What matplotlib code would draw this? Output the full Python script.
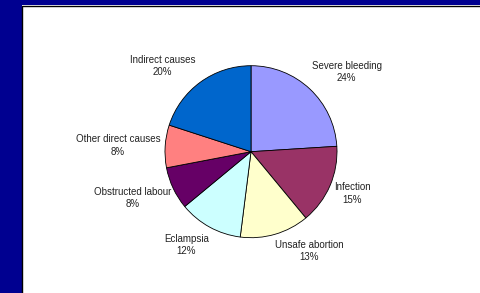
import numpy as np
import matplotlib.pyplot as plt
from matplotlib.patches import Rectangle

causes = ['Severe bleeding', 'Infection', 'Unsafe abortion', 'Eclampsia',
          'Obstructed labour', 'Other direct causes', 'Indirect causes']
shares = [24, 15, 13, 12, 8, 8, 20]
colors = ['#9999FF', '#993366', '#FFFFCC', '#CCFFFF',
          '#660066', '#FF8080', '#0066CC']

# label placement: (radius factor, angle tweak in degrees) per slice
label_pos = [(1.45, -7), (1.27, 1), (1.34, 14), (1.32, -6),
             (1.48, -4), (1.55, 1), (1.43, 10)]

W, H = 480, 293
fig = plt.figure(figsize=(W / 100, H / 100), dpi=100, facecolor='#000090')
plt.rcParams['font.family'] = ['Liberation Sans', 'DejaVu Sans']

# white slide panel with a thin dark edge on the left and top
fig.patches.append(Rectangle((22 / W, 0), 1, 1 - 5 / H, transform=fig.transFigure,
                             facecolor='white', edgecolor='none', zorder=-10))
fig.lines.append(plt.Line2D([21.5 / W, 21.5 / W, 1], [0, 1 - 5.5 / H, 1 - 5.5 / H],
                            transform=fig.transFigure, color='black', lw=1,
                            zorder=-9))

ax = fig.add_axes([0, 0, 1, 1])
ax.set_zorder(1)
ax.patch.set_visible(False)
ax.axis('off')

cx, cy, R = 251, H - 151.7, 86
wedges, _ = ax.pie(shares, colors=colors, startangle=90, counterclock=False,
                   center=(cx, cy), radius=R,
                   wedgeprops=dict(edgecolor='black', linewidth=0.6))
ax.set_xlim(0, W)
ax.set_ylim(0, H)
ax.set_aspect('equal')

for w, name, val, (f, tw) in zip(wedges, causes, shares, label_pos):
    mid = np.deg2rad((w.theta1 + w.theta2) / 2 + tw)
    x = cx + f * R * np.cos(mid)
    y = cy + f * R * np.sin(mid)
    ax.text(x, y, f'{name}\n{val}%', ha='center', va='center', fontsize=7,
            color='#222222', linespacing=1.3)

fig.savefig('out.png', dpi=100, facecolor=fig.get_facecolor())
